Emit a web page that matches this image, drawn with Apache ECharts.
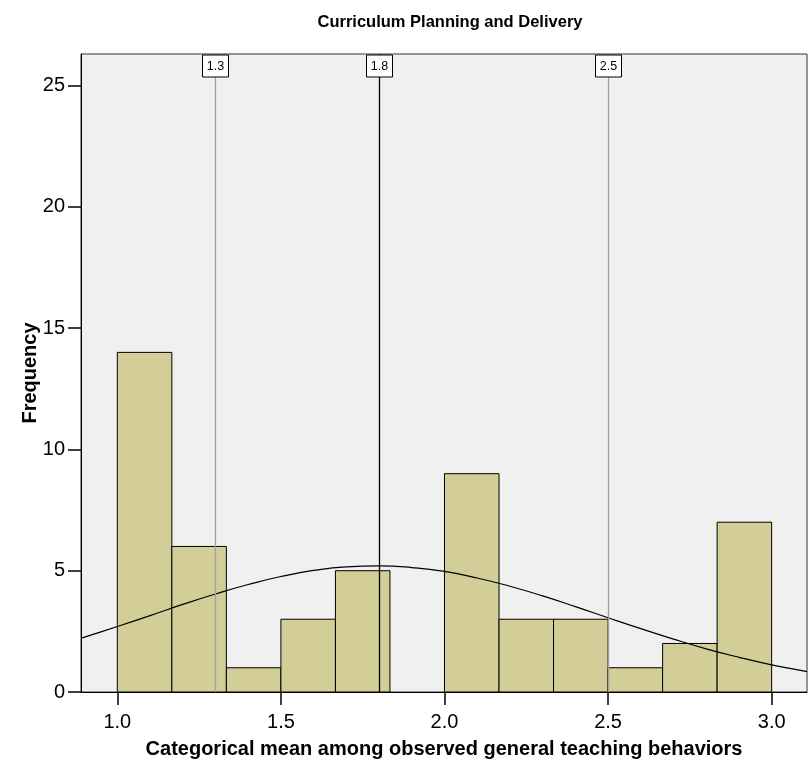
<!DOCTYPE html>
<html>
<head>
<meta charset="utf-8">
<script src="https://cdn.jsdelivr.net/npm/echarts@6/dist/echarts.min.js"></script>
<style>
html,body{margin:0;padding:0;background:#fff;}
#chart{width:809px;height:759px;}
</style>
</head>
<body>
<div id="chart"></div>
<script>
// Histogram bins (start, end) and frequencies
var binStarts = [1.0, 1.1667, 1.3333, 1.5, 1.6667, 1.8333, 2.0, 2.1667, 2.3333, 2.5, 2.6667, 2.8333];
var binEnds   = [1.1667, 1.3333, 1.5, 1.6667, 1.8333, 2.0, 2.1667, 2.3333, 2.5, 2.6667, 2.8333, 3.0];
var frequencies = [14, 6, 1, 3, 5, 0, 9, 3, 3, 1, 2, 7];

// Normal curve
var curveX = [0.889, 0.9, 1.0, 1.1, 1.2, 1.3, 1.4, 1.5, 1.6, 1.7, 1.8, 1.9, 2.0, 2.1, 2.2, 2.3, 2.4, 2.5, 2.6, 2.7, 2.8, 2.9, 3.0, 3.1, 3.108];
var curveY = [2.22, 2.26, 2.70, 3.15, 3.61, 4.04, 4.43, 4.76, 5.01, 5.16, 5.20, 5.13, 4.97, 4.70, 4.36, 3.96, 3.52, 3.06, 2.61, 2.18, 1.78, 1.43, 1.12, 0.86, 0.84];

// Reference lines
var refValues = [1.3, 1.8, 2.5];
var refLabels = ['1.3', '1.8', '2.5'];
var refColors = ['#a0a0a0', '#000000', '#a0a0a0'];

// Axis ticks
var xTicks = [1.0, 1.5, 2.0, 2.5, 3.0];
var xTickLabels = ['1.0', '1.5', '2.0', '2.5', '3.0'];

var chart = echarts.init(document.getElementById('chart'), null, {renderer: 'canvas'});

var barData = binStarts.map(function (s, i) { return [s, binEnds[i], frequencies[i]]; });
var curveData = curveX.map(function (x, i) { return [x, curveY[i]]; });
var refData = refValues.map(function (v, i) { return [v, i]; });

var font = 'Arial, "Liberation Sans", Helvetica, sans-serif';
var xMin = 0.889, xMax = 3.108, yMax = 26.3;

chart.setOption({
  animation: false,
  backgroundColor: '#ffffff',
  title: {
    text: 'Curriculum Planning and Delivery',
    left: 445, top: 9, textAlign: 'center',
    textStyle: {fontFamily: font, fontSize: 16.5, fontWeight: 'bold', color: '#000'}
  },
  grid: {
    left: 81, right: 2, top: 54, bottom: 67,
    outerBoundsMode: 'none', containLabel: false,
    show: true, backgroundColor: '#f0f0f0', borderColor: '#333', borderWidth: 1
  },
  xAxis: {
    type: 'value', min: xMin, max: xMax,
    name: 'Categorical mean among observed general teaching behaviors',
    nameLocation: 'middle', nameGap: 47, nameMoveOverlap: false,
    nameTextStyle: {fontFamily: font, fontSize: 20, fontWeight: 'bold', color: '#000'},
    axisLine: {show: true, lineStyle: {color: '#000', width: 1}},
    axisTick: {show: true, length: 13, lineStyle: {color: '#000', width: 1.5}, customValues: xTicks},
    axisLabel: {
      customValues: xTicks, margin: 20,
      fontFamily: font, fontSize: 20, color: '#000',
      formatter: function (v) { var i = xTicks.indexOf(v); return i >= 0 ? xTickLabels[i] : ''; }
    },
    splitLine: {show: false}
  },
  yAxis: {
    type: 'value', min: 0, max: yMax, interval: 5,
    name: 'Frequency', nameLocation: 'middle', nameGap: 41, nameRotate: 90, nameMoveOverlap: false,
    nameTextStyle: {fontFamily: font, fontSize: 20, fontWeight: 'bold', color: '#000'},
    axisLine: {show: true, lineStyle: {color: '#000', width: 1}},
    axisTick: {show: true, length: 13, lineStyle: {color: '#000', width: 1.5}},
    axisLabel: {margin: 16, fontFamily: font, fontSize: 20, color: '#000',
      showMaxLabel: false, formatter: function (v) { return v % 5 === 0 && v <= 25 ? String(v) : ''; }},
    splitLine: {show: false}
  },
  series: [
    {
      type: 'custom',
      data: barData,
      encode: {x: [0, 1], y: 2},
      renderItem: function (params, api) {
        var p0 = api.coord([api.value(0), api.value(2)]);
        var p1 = api.coord([api.value(1), 0]);
        if (api.value(2) <= 0) return null;
        return {
          type: 'rect',
          shape: {x: p0[0], y: p0[1], width: p1[0] - p0[0], height: p1[1] - p0[1]},
          style: {fill: '#d3ce97', stroke: '#000', lineWidth: 1}
        };
      },
      z: 2
    },
    {
      type: 'line',
      data: curveData,
      smooth: true,
      showSymbol: false,
      symbol: 'none',
      lineStyle: {color: '#000', width: 1.2},
      clip: true,
      z: 3
    },
    {
      type: 'custom',
      data: refData,
      encode: {x: 0},
      renderItem: function (params, api) {
        var v = api.value(0);
        var i = api.value(1);
        var top = api.coord([v, yMax]);
        var bot = api.coord([v, 0]);
        var x = Math.round(top[0]) + 0.5;
        return {
          type: 'group',
          children: [
            {type: 'line', shape: {x1: x, y1: top[1], x2: x, y2: bot[1]},
             style: {stroke: refColors[i], lineWidth: 1.3}},
            {type: 'rect', shape: {x: x - 13, y: top[1] + 1, width: 26, height: 22},
             style: {fill: '#fff', stroke: '#000', lineWidth: 1}},
            {type: 'text', style: {text: refLabels[i], x: x, y: top[1] + 12.5,
             align: 'center', verticalAlign: 'middle', fontFamily: font, fontSize: 12.5, fill: '#000'}}
          ]
        };
      },
      z: 4
    }
  ]
});
</script>
</body>
</html>
